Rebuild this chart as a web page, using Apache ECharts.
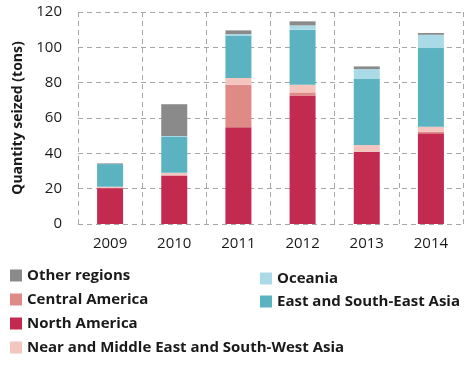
<!DOCTYPE html>
<html><head><meta charset="utf-8">
<script src="https://cdn.jsdelivr.net/npm/echarts@6/dist/echarts.min.js"></script>
<style>html,body{margin:0;padding:0;background:#fff}#c{width:476px;height:365px}</style>
</head><body><div id="c"></div>
<script>
var years = ['2009','2010','2011','2012','2013','2014'];
var northAmerica = [20.3, 27.5, 54.7, 72.8, 40.9, 51.3];
var centralAmerica = [0, 0, 24.1, 1.7, 0, 0.9];
var nearMiddleEast = [0.8, 1.5, 3.8, 4.3, 3.8, 2.9];
var eastSouthEastAsia = [12.8, 20.5, 24.1, 31.2, 37.7, 44.5];
var oceania = [0, 0.3, 0.8, 2.4, 5.3, 7.5];
var otherRegions = [0.4, 18.0, 2.1, 2.3, 1.5, 1.0];
var yTicks = [0, 20, 40, 60, 80, 100, 120];

var font = '"Open Sans", sans-serif';
var chart = echarts.init(document.getElementById('c'));
function s(name, data, color) {
  return {name: name, type: 'bar', stack: 'a', data: data, barWidth: 26,
    itemStyle: {color: color}, emphasis: {disabled: true}};
}
var legendText = {fontFamily: font, fontWeight: 'bold', fontSize: 15, color: '#1a1a1a'};
function lg(name, left, top) {
  return {left: left, top: top, itemWidth: 12, itemHeight: 12, icon: 'rect',
    textStyle: legendText, data: [name], padding: 0};
}
chart.setOption({
  animation: false,
  grid: {left: 78, right: 13, top: 12, bottom: 141},
  legend: [
    lg('Other regions', 10, 268),
    lg('Central America', 10, 292),
    lg('North America', 10, 316),
    lg('Near and Middle East and South-West Asia', 10, 340),
    lg('Oceania', 260, 271),
    lg('East and South-East Asia', 260, 294)
  ],
  xAxis: {type: 'category', data: years,
    axisLine: {show: false}, axisTick: {show: false},
    axisLabel: {fontFamily: font, fontSize: 15, color: '#1a1a1a', margin: 12},
    splitLine: {show: true, lineStyle: {type: [5, 4], color: '#a6a6a6'}}},
  yAxis: {type: 'value', min: 0, max: 120, interval: 20,
    name: 'Quantity seized (tons)', nameLocation: 'middle', nameGap: 48, nameRotate: 90,
    nameTextStyle: {fontFamily: font, fontWeight: 'bold', fontSize: 14, color: '#1a1a1a'},
    axisLine: {show: false}, axisTick: {show: false},
    axisLabel: {fontFamily: font, fontSize: 15, color: '#1a1a1a', margin: 16,
      formatter: function(v){ return yTicks.indexOf(v) >= 0 ? String(v) : ''; }},
    splitLine: {show: true, lineStyle: {type: [5, 4], color: '#a6a6a6'}}},
  series: [
    s('North America', northAmerica, '#c32a50'),
    s('Central America', centralAmerica, '#e08a87'),
    s('Near and Middle East and South-West Asia', nearMiddleEast, '#f3c5be'),
    s('East and South-East Asia', eastSouthEastAsia, '#5bb3c1'),
    s('Oceania', oceania, '#aadae6'),
    s('Other regions', otherRegions, '#8a8a8a')
  ]
});
</script></body></html>
